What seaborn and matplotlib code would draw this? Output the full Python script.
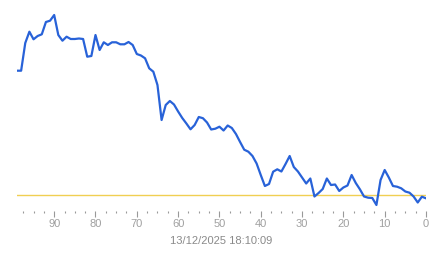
import matplotlib
matplotlib.use("Agg")
import matplotlib.pyplot as plt
import seaborn as sns
import pandas as pd
import numpy as np
from matplotlib.ticker import MultipleLocator

# x positions (seconds ago), from 99 down to 0
x_values = list(range(99, -1, -1))
# series values (relative to the reference level at 0)
y_values = [
    124.3, 124.3, 152.0, 163.3, 155.7, 159.0, 160.7, 173.0, 174.3, 180.0,
    160.0, 154.3, 158.3, 156.0, 156.0, 156.5, 156.0, 138.3, 139.0, 160.0,
    145.0, 152.7, 150.0, 152.7, 152.7, 150.7, 150.7, 153.0, 150.0, 141.0,
    139.5, 136.7, 126.7, 123.3, 110.0, 75.0, 90.0, 94.0, 90.5, 83.5,
    77.0, 71.5, 65.7, 70.0, 78.0, 76.8, 72.5, 65.5, 66.3, 68.3,
    64.5, 69.5, 67.0, 61.0, 53.0, 45.3, 43.3, 39.0, 31.5, 20.0,
    9.0, 11.0, 23.3, 25.7, 23.5, 31.0, 39.0, 28.0, 23.5, 17.5,
    11.5, 16.5, -1.5, 2.0, 6.0, 16.5, 10.0, 10.5, 4.0, 7.5,
    9.5, 20.0, 12.0, 5.7, -1.5, -2.7, -3.0, -10.0, 15.0, 25.0,
    17.5, 9.0, 8.3, 6.7, 3.5, 2.3, -1.5, -7.5, -1.7, -3.3,
]
reference_level = 0
x_label = "13/12/2025 18:10:09"

df = pd.DataFrame({"x": x_values, "y": y_values})

W, H = 443, 258
fig = plt.figure(figsize=(W / 100, H / 100), dpi=100)
ax = fig.add_axes([17 / W, (H - 211) / H, (426 - 17) / W, (211 - 5) / H])

sns.lineplot(data=df, x="x", y="y", ax=ax, color="#2862d8", linewidth=1.6, zorder=3)
ax.axhline(reference_level, color="#f0cf52", linewidth=1.0, zorder=2)

ax.set_xlim(99, 0)
ax.set_ylim(-16, 190)
for s in ax.spines.values():
    s.set_visible(False)
ax.set_facecolor("white")
fig.patch.set_facecolor("white")

ax.xaxis.set_major_locator(MultipleLocator(10))
ax.xaxis.set_minor_locator(MultipleLocator(2.5))
ax.tick_params(axis="x", which="major", length=4, width=0.8, color="#999999",
               labelsize=8, labelcolor="#a0a0a0", pad=2)
ax.tick_params(axis="x", which="minor", length=1.5, width=0.8, color="#999999")
ax.set_yticks([])
ax.set_ylabel("")
ax.set_xlabel(x_label, fontsize=8, color="#8a8a8a", labelpad=5)
for lbl in ax.get_xticklabels():
    lbl.set_family(["Liberation Sans", "DejaVu Sans"])
ax.xaxis.label.set_family(["Liberation Sans", "DejaVu Sans"])

fig.savefig("out.png", dpi=100)
